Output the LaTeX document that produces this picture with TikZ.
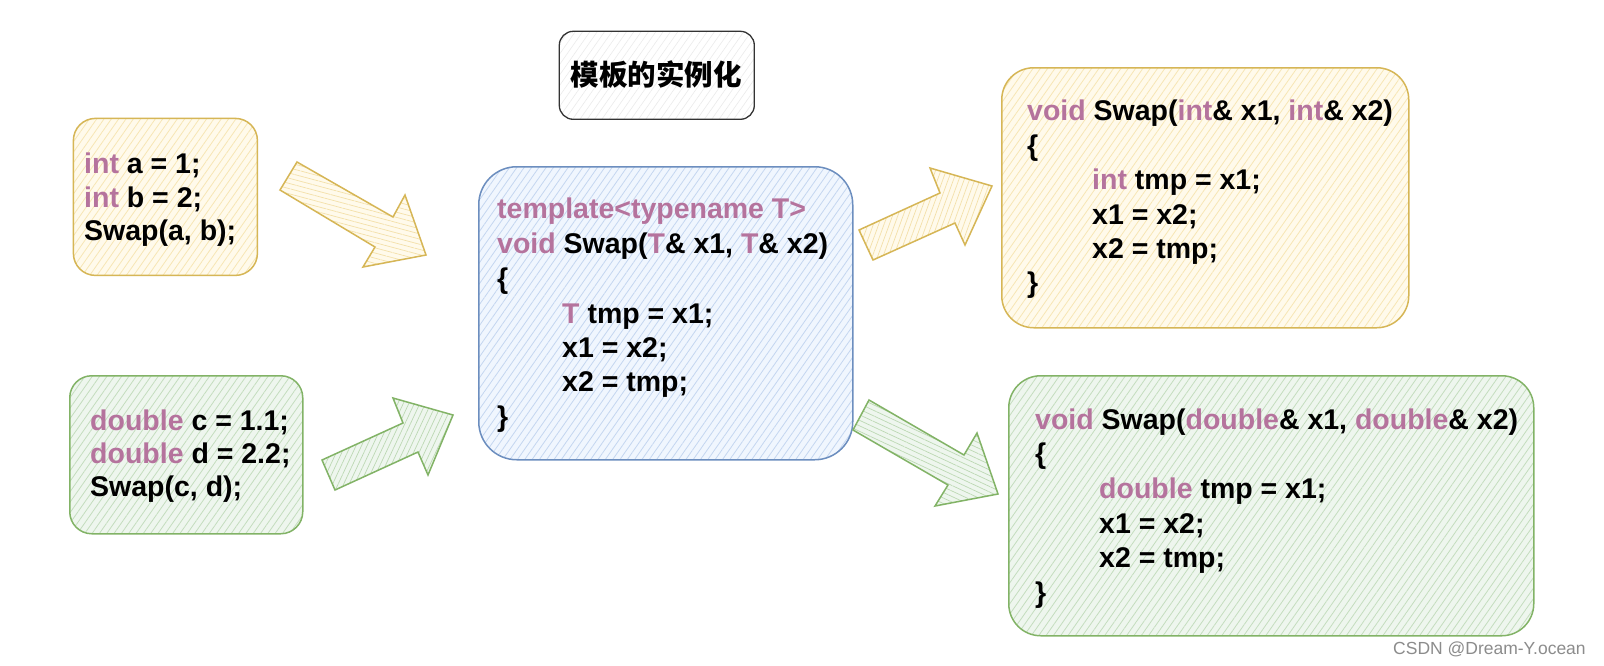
\documentclass[tikz,border=0pt]{standalone}
\usepackage{fontspec}
\setmainfont{Liberation Sans}
\newfontfamily\cjkfont{Noto Sans CJK SC}
\usetikzlibrary{patterns.meta}
\definecolor{kw}{HTML}{B5739D}
\definecolor{ystroke}{HTML}{D6B656}
\definecolor{yfill}{HTML}{FFF2CC}
\definecolor{gstroke}{HTML}{82B366}
\definecolor{gfill}{HTML}{D5E8D4}
\definecolor{bstroke}{HTML}{6C8EBF}
\definecolor{bfill}{HTML}{DAE8FC}
\definecolor{tstroke}{HTML}{333333}
\newcommand{\kw}[1]{\textcolor{kw}{#1}}
\tikzset{
  code/.style={anchor=base west, inner sep=0pt, font=\fontsize{28.5pt}{34pt}\selectfont\bfseries},
  cbox/.style={anchor=north west, inner sep=0pt, line width=1.5pt},
  ybox/.style={cbox, draw=ystroke, preaction={fill=yfill!40},
    pattern={Lines[angle=55,distance=6pt,line width=0.8pt]}, pattern color=yfill!80!ystroke},
  gbox/.style={cbox, draw=gstroke, preaction={fill=gfill!40},
    pattern={Lines[angle=55,distance=6pt,line width=0.8pt]}, pattern color=gfill!80!gstroke},
  bbox/.style={cbox, draw=bstroke, preaction={fill=bfill!40},
    pattern={Lines[angle=55,distance=6pt,line width=0.8pt]}, pattern color=bfill!80!bstroke},
  tbox/.style={cbox, draw=tstroke, line width=1.3pt, preaction={fill=white},
    pattern={Lines[angle=55,distance=6pt,line width=0.6pt]}, pattern color=black!8},
  yarrow/.style={draw=ystroke, line width=1.5pt, line join=miter, preaction={fill=yfill!40}, pattern color=yfill!70!ystroke},
  garrow/.style={draw=gstroke, line width=1.5pt, line join=miter, preaction={fill=gfill!40}, pattern color=gfill!70!gstroke},
}
\begin{document}
\begin{tikzpicture}[x=1pt,y=-1pt]
\useasboundingbox[fill=white] (0,0) rectangle (1604,665);

% boxes
\node[ybox, rounded corners=22pt, minimum width=184pt, minimum height=157pt] (b1) at (73,118) {};
\node[gbox, rounded corners=22pt, minimum width=233pt, minimum height=158pt] (b2) at (69,375) {};
\node[bbox, rounded corners=38pt, minimum width=374pt, minimum height=293pt] (bt) at (478,166) {};
\node[tbox, rounded corners=14pt, minimum width=195pt, minimum height=88pt] (tt) at (559,31) {};
\node[ybox, rounded corners=32pt, minimum width=407pt, minimum height=260pt] (br1) at (1001,67) {};
\node[gbox, rounded corners=32pt, minimum width=525pt, minimum height=260pt] (br2) at (1008,375) {};

% block arrows
\draw[yarrow, pattern={Lines[angle=-15,distance=5pt,line width=0.7pt]}]
  (297,162) -- (393,217) -- (405,195) -- (426,255) -- (363,267) -- (375,247) -- (280,190) -- cycle;
\draw[garrow, pattern={Lines[angle=65,distance=5pt,line width=0.7pt]}]
  (322,460) -- (403,423) -- (393,398) -- (453,415) -- (428,475) -- (418,452) -- (335,490) -- cycle;
\draw[yarrow, pattern={Lines[angle=70,distance=5pt,line width=0.7pt]}]
  (859,230) -- (940,193) -- (930,168) -- (992,186) -- (965,245) -- (955,223) -- (873,260) -- cycle;
\draw[garrow, pattern={Lines[angle=-25,distance=5pt,line width=0.7pt]}]
  (869,400) -- (964,455) -- (977,433) -- (998,494) -- (935,506) -- (948,485) -- (853,430) -- cycle;

% title
\node[font=\cjkfont\bfseries\fontsize{28.5pt}{34pt}\selectfont, inner sep=0pt] (title) at (656,75) {模板的实例化};

% box 1
\node[code] (l1a) at (84,173) {\kw{int} a = 1;};
\node[code] (l1b) at (84,207) {\kw{int} b = 2;};
\node[code] (l1c) at (84,240) {Swap(a, b);};

% box 2
\node[code] (l2a) at (90,430) {\kw{double} c = 1.1;};
\node[code] (l2b) at (90,463) {\kw{double} d = 2.2;};
\node[code] (l2c) at (90,496) {Swap(c, d);};

% template box
\node[code] (lta) at (497,218) {\kw{template<typename T>}};
\node[code] (ltb) at (497,253) {\kw{void} Swap(\kw{T}\& x1, \kw{T}\& x2)};
\node[code] (ltc) at (497,288) {\{};
\node[code] (ltd) at (562,323) {\kw{T} tmp = x1;};
\node[code] (lte) at (562,357) {x1 = x2;};
\node[code] (ltf) at (562,391) {x2 = tmp;};
\node[code] (ltg) at (497,426) {\}};

% int instance
\node[code] (lya) at (1027,120) {\kw{void} Swap(\kw{int}\& x1, \kw{int}\& x2)};
\node[code] (lyb) at (1027,155) {\{};
\node[code] (lyc) at (1092,189) {\kw{int} tmp = x1;};
\node[code] (lyd) at (1092,224) {x1 = x2;};
\node[code] (lye) at (1092,258) {x2 = tmp;};
\node[code] (lyf) at (1027,292) {\}};

% double instance
\node[code] (lga) at (1035,429) {\kw{void} Swap(\kw{double}\& x1, \kw{double}\& x2)};
\node[code] (lgb) at (1035,463) {\{};
\node[code] (lgc) at (1099,498) {\kw{double} tmp = x1;};
\node[code] (lgd) at (1099,533) {x1 = x2;};
\node[code] (lge) at (1099,567) {x2 = tmp;};
\node[code] (lgf) at (1035,602) {\}};

% watermark
\node[anchor=base west, inner sep=0pt, font=\fontsize{17.5pt}{20pt}\selectfont, text=black!45] (wm) at (1393,654) {CSDN @Dream-Y.ocean};
\end{tikzpicture}
\end{document}
